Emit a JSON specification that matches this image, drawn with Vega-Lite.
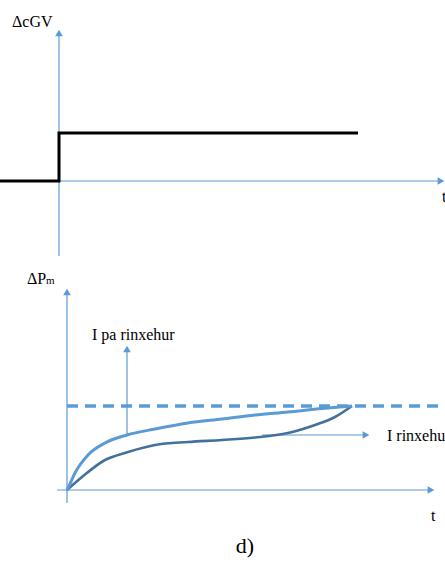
{
  "$schema": "https://vega.github.io/schema/vega-lite/v6.json",
  "width": 445,
  "height": 563,
  "autosize": {"type": "fit", "contains": "padding"},
  "padding": 0,
  "background": "white",
  "config": {"view": {"stroke": null}},
  "datasets": {
    "axes": [
      {"name": "top-y", "x": 59, "y": 34, "x2": 59, "y2": 256},
      {"name": "top-x", "x": 59, "y": 181, "x2": 438, "y2": 181},
      {"name": "bot-y", "x": 67, "y": 294, "x2": 67, "y2": 503},
      {"name": "bot-x", "x": 57, "y": 490, "x2": 429, "y2": 490},
      {"name": "pa-arrow", "x": 127, "y": 435, "x2": 127, "y2": 351},
      {"name": "rinx-arrow", "x": 262, "y": 435, "x2": 364, "y2": 435}
    ],
    "heads": [
      {"name": "top-y", "x": 59, "y": 33, "dir": "up"},
      {"name": "top-x", "x": 441, "y": 181, "dir": "right"},
      {"name": "bot-y", "x": 67, "y": 292, "dir": "up"},
      {"name": "bot-x", "x": 431, "y": 490, "dir": "right"},
      {"name": "pa-arrow", "x": 127, "y": 349, "dir": "up"},
      {"name": "rinx-arrow", "x": 366, "y": 435, "dir": "right"}
    ],
    "step": [
      {"i": 0, "x": 0, "y": 181},
      {"i": 1, "x": 59, "y": 181},
      {"i": 2, "x": 59, "y": 133},
      {"i": 3, "x": 358, "y": 133}
    ],
    "dash": [
      {"x": 67, "y": 406, "x2": 440, "y2": 406}
    ],
    "curves": [
      {"s": "light", "i": 0, "x": 67, "y": 490},
      {"s": "light", "i": 1, "x": 69, "y": 486},
      {"s": "light", "i": 2, "x": 75, "y": 473},
      {"s": "light", "i": 3, "x": 88, "y": 455},
      {"s": "light", "i": 4, "x": 105, "y": 443},
      {"s": "light", "i": 5, "x": 127, "y": 435},
      {"s": "light", "i": 6, "x": 155, "y": 429},
      {"s": "light", "i": 7, "x": 188, "y": 423},
      {"s": "light", "i": 8, "x": 222, "y": 419},
      {"s": "light", "i": 9, "x": 255, "y": 415},
      {"s": "light", "i": 10, "x": 288, "y": 412},
      {"s": "light", "i": 11, "x": 322, "y": 408.5},
      {"s": "light", "i": 12, "x": 352, "y": 406},
      {"s": "dark", "i": 0, "x": 67, "y": 490},
      {"s": "dark", "i": 1, "x": 82, "y": 477},
      {"s": "dark", "i": 2, "x": 105, "y": 460},
      {"s": "dark", "i": 3, "x": 128, "y": 452},
      {"s": "dark", "i": 4, "x": 155, "y": 445},
      {"s": "dark", "i": 5, "x": 188, "y": 442},
      {"s": "dark", "i": 6, "x": 222, "y": 440},
      {"s": "dark", "i": 7, "x": 255, "y": 437.5},
      {"s": "dark", "i": 8, "x": 288, "y": 433},
      {"s": "dark", "i": 9, "x": 315, "y": 425},
      {"s": "dark", "i": 10, "x": 335, "y": 417},
      {"s": "dark", "i": 11, "x": 352, "y": 406}
    ],
    "labels": [
      {"text": "ΔcGV", "x": 12, "y": 27, "size": 16},
      {"text": "ΔP", "x": 27, "y": 284, "size": 16},
      {"text": "m", "x": 46, "y": 284, "size": 11},
      {"text": "I pa rinxehur", "x": 92, "y": 340, "size": 16},
      {"text": "I rinxehur", "x": 387, "y": 441, "size": 16},
      {"text": "t", "x": 442, "y": 202, "size": 16},
      {"text": "t", "x": 431, "y": 521, "size": 16}
    ],
    "caption": [
      {"text": "d)", "x": 245, "y": 553, "size": 22}
    ]
  },
  "encoding": {
    "x": {"type": "quantitative", "field": "x", "scale": {"domain": [0, 445], "nice": false, "zero": false}, "axis": null},
    "y": {"type": "quantitative", "field": "y", "scale": {"domain": [0, 563], "nice": false, "zero": false, "reverse": true}, "axis": null}
  },
  "layer": [
    {
      "data": {"name": "axes"},
      "mark": {"type": "rule", "color": "#5B9BD5", "strokeWidth": 1.2, "clip": true},
      "encoding": {
        "x2": {"field": "x2"},
        "y2": {"field": "y2"}
      }
    },
    {
      "data": {"name": "heads"},
      "transform": [{"filter": "datum.dir === 'up'"}],
      "mark": {"type": "point", "shape": "triangle-up", "filled": true, "color": "#5B9BD5", "opacity": 1, "size": 60, "clip": true}
    },
    {
      "data": {"name": "heads"},
      "transform": [{"filter": "datum.dir === 'right'"}],
      "mark": {"type": "point", "shape": "triangle-right", "filled": true, "color": "#5B9BD5", "opacity": 1, "size": 60, "clip": true}
    },
    {
      "data": {"name": "step"},
      "mark": {"type": "line", "color": "black", "strokeWidth": 3, "clip": true},
      "encoding": {"order": {"field": "i", "type": "quantitative"}}
    },
    {
      "data": {"name": "dash"},
      "mark": {"type": "rule", "color": "#5B9BD5", "strokeWidth": 3.5, "strokeDash": [11, 7], "clip": true},
      "encoding": {
        "x2": {"field": "x2"},
        "y2": {"field": "y2"}
      }
    },
    {
      "data": {"name": "curves"},
      "transform": [{"filter": "datum.s === 'dark'"}],
      "mark": {"type": "line", "color": "#41719C", "strokeWidth": 2.6, "interpolate": "monotone", "clip": true},
      "encoding": {"order": {"field": "i", "type": "quantitative"}}
    },
    {
      "data": {"name": "curves"},
      "transform": [{"filter": "datum.s === 'light'"}],
      "mark": {"type": "line", "color": "#5B9BD5", "strokeWidth": 3, "interpolate": "monotone", "clip": true},
      "encoding": {"order": {"field": "i", "type": "quantitative"}}
    },
    {
      "data": {"name": "labels"},
      "mark": {"type": "text", "font": "Liberation Serif", "color": "black", "baseline": "alphabetic", "align": "left", "clip": true},
      "encoding": {
        "text": {"field": "text"},
        "size": {"field": "size", "type": "quantitative", "scale": null}
      }
    },
    {
      "data": {"name": "caption"},
      "mark": {"type": "text", "font": "Liberation Serif", "color": "black", "baseline": "alphabetic", "align": "center", "clip": true},
      "encoding": {
        "text": {"field": "text"},
        "size": {"field": "size", "type": "quantitative", "scale": null}
      }
    }
  ]
}
